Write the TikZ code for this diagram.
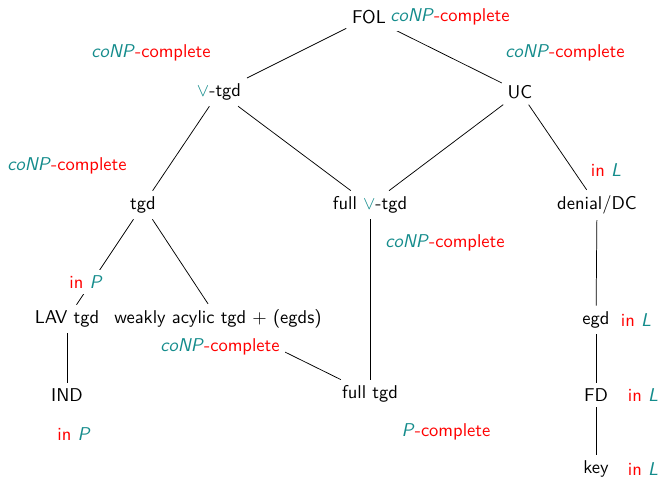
\documentclass[tikz,border=0pt]{standalone}
\usepackage{tikz}
\usetikzlibrary{positioning}
\definecolor{cteal}{RGB}{20,140,140}
\newcommand{\conpc}{\textcolor{cteal}{\textsl{coNP}}\textcolor{red}{-complete}}
\newcommand{\pc}{\textcolor{cteal}{\textsl{P}}\textcolor{red}{-complete}}
\newcommand{\inP}{\textcolor{red}{in} \textcolor{cteal}{\textsl{P}}}
\newcommand{\inL}{\textcolor{red}{in} \textcolor{cteal}{\textsl{L}}}
\newcommand{\por}{\textcolor{cteal}{$\vee$}}

\begin{document}
\begin{tikzpicture}[x=0.54pt,y=-0.54pt,font=\sffamily,
	cls/.style={inner sep=3pt},
	lab/.style={inner sep=3pt,fill=white}]
	\useasboundingbox (0,0) rectangle (660,477);

	% classes
	\node[cls] (fol) at (369,17) {FOL};
	\node[cls] (dtgd) at (219,92) {\por-tgd};
	\node[cls] (uc) at (520,92) {UC};
	\node[cls] (tgd) at (143,205) {tgd};
	\node[cls] (fdtgd) at (370,205) {full \por-tgd};
	\node[cls] (den) at (597,205) {denial/DC};
	\node[cls] (lav) at (67,319) {LAV tgd};
	\node[cls] (wa) at (218,319) {weakly acylic tgd + (egds)};
	\node[cls] (egd) at (596,320) {egd};
	\node[cls] (ind) at (67,395) {IND};
	\node[cls] (ftgd) at (370,394) {full tgd};
	\node[cls] (fd) at (596,395) {FD};
	\node[cls] (key) at (596,469) {key};

	% inclusions
	\draw (fol) -- (dtgd);
	\draw (fol) -- (uc);
	\draw (dtgd) -- (tgd);
	\draw (dtgd) -- (fdtgd);
	\draw (uc) -- (fdtgd);
	\draw (uc) -- (den);
	\draw (tgd) -- (lav);
	\draw (tgd) -- (wa);
	\draw (fdtgd) -- (ftgd);
	\draw (den) -- (egd);
	\draw (egd) -- (fd);
	\draw (fd) -- (key);
	\draw (lav) -- (ind);
	\draw (wa) -- (ftgd);

	% complexity
	\node[lab,anchor=west] (folc) at ([xshift=-4pt]fol.east) {\conpc};
	\node[lab] (dtgdc) at (151,53) {\conpc};
	\node[lab] (ucc) at (565,53) {\conpc};
	\node[lab] (tgdc) at (67,166) {\conpc};
	\node[lab] (denc) at (606,170) {\inL};
	\node[lab] (fdtgdc) at (445,243) {\conpc};
	\node[lab] (lavc) at (86,282) {\inP};
	\node[lab] (wac) at (220,347) {\conpc};
	\node[lab] (indc) at (74,434) {\inP};
	\node[lab] (ftgdc) at (446,432) {\pc};
	\node[lab] (egdc) at (636,320) {\inL};
	\node[lab] (fdc) at (643,395) {\inL};
	\node[lab] (keyc) at (643,469) {\inL};
\end{tikzpicture}
\end{document}
